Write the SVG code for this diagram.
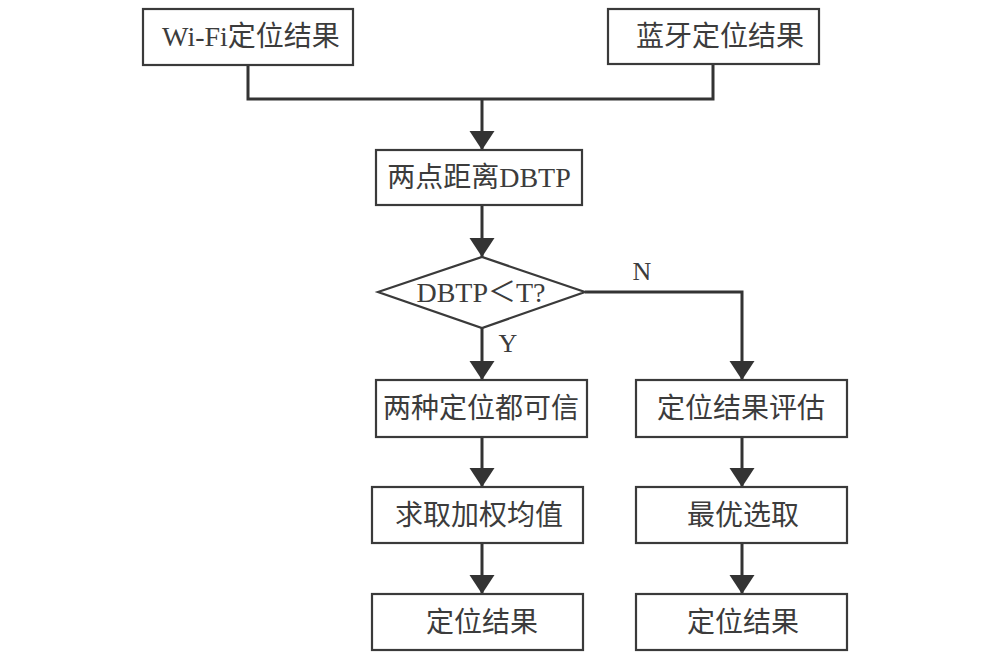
<svg xmlns="http://www.w3.org/2000/svg" width="1000" height="660" viewBox="0 0 1000 660">
<defs>
<marker id="arr" markerUnits="userSpaceOnUse" markerWidth="20" markerHeight="26" refX="19" refY="12.5" orient="auto">
<path d="M0,0 L19,12.5 L0,25 Z" fill="#333"/>
</marker>
<style>
.box{fill:#fff;stroke:#3a3a3a;stroke-width:2.2}
.t{font-family:"Liberation Serif","Noto Sans CJK SC",serif;font-size:28px;fill:#3c3c3c;text-anchor:middle}
.c{fill:none;stroke:#333;stroke-width:3}
</style>
</defs>
<rect width="1000" height="660" fill="#fff"/>
<g id="connectors">
<polyline class="c" points="248,65 248,99 713,99 713,64"/>
<line class="c" x1="482" y1="99" x2="482" y2="150" marker-end="url(#arr)"/>
<line class="c" x1="482" y1="205" x2="482" y2="257" marker-end="url(#arr)"/>
<line class="c" x1="482" y1="328" x2="482" y2="380" marker-end="url(#arr)"/>
<polyline class="c" points="585,292 742,292 742,380" marker-end="url(#arr)"/>
<line class="c" x1="482" y1="437" x2="482" y2="487" marker-end="url(#arr)"/>
<line class="c" x1="482" y1="543" x2="482" y2="594" marker-end="url(#arr)"/>
<line class="c" x1="742" y1="437" x2="742" y2="487" marker-end="url(#arr)"/>
<line class="c" x1="742" y1="543" x2="742" y2="594" marker-end="url(#arr)"/>
<text class="t" x="642" y="280" style="font-size:26px">N</text>
<text class="t" x="508" y="352" style="font-size:26px">Y</text>
</g>
<g id="wifi"><rect class="box" x="143" y="9" width="210" height="56"/><text class="t" x="251" y="46">Wi-Fi定位结果</text></g>
<g id="bt"><rect class="box" x="608" y="9" width="211" height="55"/><text class="t" x="720" y="46">蓝牙定位结果</text></g>
<g id="dbtp"><rect class="box" x="376" y="150" width="206" height="55"/><text class="t" x="479" y="187">两点距离DBTP</text></g>
<g id="decision"><polygon class="box" points="378,292 482,257 585,292 482,328"/><text class="t" x="481" y="302">DBTP＜T?</text></g>
<g id="both"><rect class="box" x="376" y="380" width="211" height="57"/><text class="t" x="481" y="418">两种定位都可信</text></g>
<g id="weighted"><rect class="box" x="372" y="487" width="211" height="56"/><text class="t" x="479" y="525">求取加权均值</text></g>
<g id="resultL"><rect class="box" x="372" y="594" width="211" height="56"/><text class="t" x="482" y="632">定位结果</text></g>
<g id="eval"><rect class="box" x="636" y="380" width="211" height="57"/><text class="t" x="741" y="418">定位结果评估</text></g>
<g id="best"><rect class="box" x="636" y="487" width="211" height="56"/><text class="t" x="743" y="525">最优选取</text></g>
<g id="resultR"><rect class="box" x="636" y="594" width="211" height="56"/><text class="t" x="743" y="632">定位结果</text></g>
</svg>
